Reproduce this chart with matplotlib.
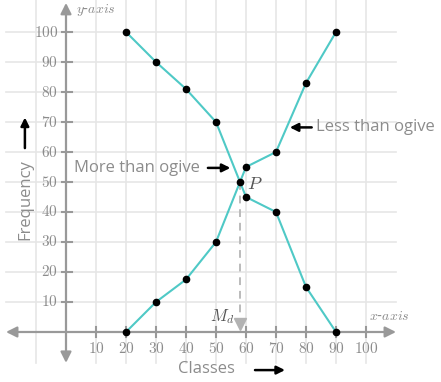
import matplotlib.pyplot as plt

plt.rcParams['mathtext.fontset'] = 'cm'

classes = [20, 30, 40, 50, 60, 70, 80, 90]
less_than = [0, 10, 17.5, 30, 55, 60, 83, 100]
more_than = [100, 90, 81, 70, 45, 40, 15, 0]
median_pt = (58, 50)
xticks = [10, 20, 30, 40, 50, 60, 70, 80, 90, 100]
yticks = [10, 20, 30, 40, 50, 60, 70, 80, 90, 100]

teal = '#4fc9c6'
axis_gray = '#999999'
grid_gray = '#e6e6e6'
text_gray = '#8c8c8c'
sans = 'Open Sans'

fig = plt.figure(figsize=(4.41, 3.82), dpi=100)
ax = fig.add_axes([0, 0, 1, 1])
# 3 px per unit, origin at pixel (66, 332)
ax.set_xlim(-22, 125)
ax.set_ylim(-16.67, 110.67)
ax.axis('off')

# grid
for gx in [-10] + xticks:
    ax.plot([gx, gx], [-10.3, 110.7], color=grid_gray, lw=1.2, zorder=0)
for gy in yticks:
    ax.plot([-20, 110], [gy, gy], color=grid_gray, lw=1.2, zorder=0)

# axes with arrows
ax.annotate('', xy=(110, 0), xytext=(-20, 0),
            arrowprops=dict(arrowstyle='<|-|>', color=axis_gray, lw=1.6, mutation_scale=16,
                            shrinkA=0, shrinkB=0))
ax.annotate('', xy=(0, 109.7), xytext=(0, -10.3),
            arrowprops=dict(arrowstyle='<|-|>', color=axis_gray, lw=1.6, mutation_scale=16,
                            shrinkA=0, shrinkB=0))

for t in xticks:
    ax.plot([t, t], [-1.7, 1.7], color=axis_gray, lw=1.5, zorder=1)
    ax.text(t, -5.5, f'${t}$', ha='center', va='center', color=text_gray, fontsize=11)
for t in yticks:
    ax.plot([-1.5, 2], [t, t], color=axis_gray, lw=1.5, zorder=1)
    ax.text(-2.6, t, f'${t}$', ha='right', va='center', color=text_gray, fontsize=11)

ax.text(3.5, 107.5, '$y$-$axis$', color=text_gray, fontsize=10, va='center', ha='left')
ax.text(101, 5.3, '$x$-$axis$', color=text_gray, fontsize=10, va='center', ha='left')

# ogives
ax.plot(classes, less_than, color=teal, lw=1.5, zorder=2)
ax.plot(classes, more_than, color=teal, lw=1.5, zorder=2)
ax.plot(classes, less_than, 'o', color='black', ms=4.5, zorder=3)
ax.plot(classes, more_than, 'o', color='black', ms=4.5, zorder=3)
ax.plot(*median_pt, 'o', color='black', ms=4.5, zorder=3)

# median drop line
ax.plot([median_pt[0], median_pt[0]], [median_pt[1], 3], color='#bbbbbb', lw=1.4,
        ls=(0, (4, 3)), zorder=1)
ax.plot(median_pt[0], 2.6, marker='v', color='#b3b3b3', ms=8, zorder=2)
ax.text(60.3, 49.5, '$P$', fontsize=13, color='#555555', va='center', ha='left')
ax.text(56, 5, '$M_d$', fontsize=12, color='#555555', va='center', ha='right')

# annotations
ax.text(44.5, 54.7, 'More than ogive', fontfamily=sans, fontsize=12, color=text_gray,
        ha='right', va='center')
ax.annotate('', xy=(54.8, 54.7), xytext=(47.3, 54.7),
            arrowprops=dict(arrowstyle='-|>', color='black', lw=1.8, mutation_scale=12,
                            shrinkA=0, shrinkB=0))
ax.text(83.3, 68.2, 'Less than ogive', fontfamily=sans, fontsize=12, color=text_gray,
        ha='left', va='center')
ax.annotate('', xy=(74.6, 68.2), xytext=(81.9, 68.2),
            arrowprops=dict(arrowstyle='-|>', color='black', lw=1.8, mutation_scale=12,
                            shrinkA=0, shrinkB=0))

ax.text(-13.7, 44.3, 'Frequency', fontfamily=sans, fontsize=12, color=text_gray,
        ha='center', va='center', rotation=90)
ax.annotate('', xy=(-13.7, 71.5), xytext=(-13.7, 61.3),
            arrowprops=dict(arrowstyle='-|>', color='black', lw=1.8, mutation_scale=12,
                            shrinkA=0, shrinkB=0))
ax.text(46.8, -12.5, 'Classes', fontfamily=sans, fontsize=12, color=text_gray,
        ha='center', va='center')
ax.annotate('', xy=(73, -12.7), xytext=(63, -12.7),
            arrowprops=dict(arrowstyle='-|>', color='black', lw=1.8, mutation_scale=12,
                            shrinkA=0, shrinkB=0))

fig.savefig('out.png', dpi=100)
